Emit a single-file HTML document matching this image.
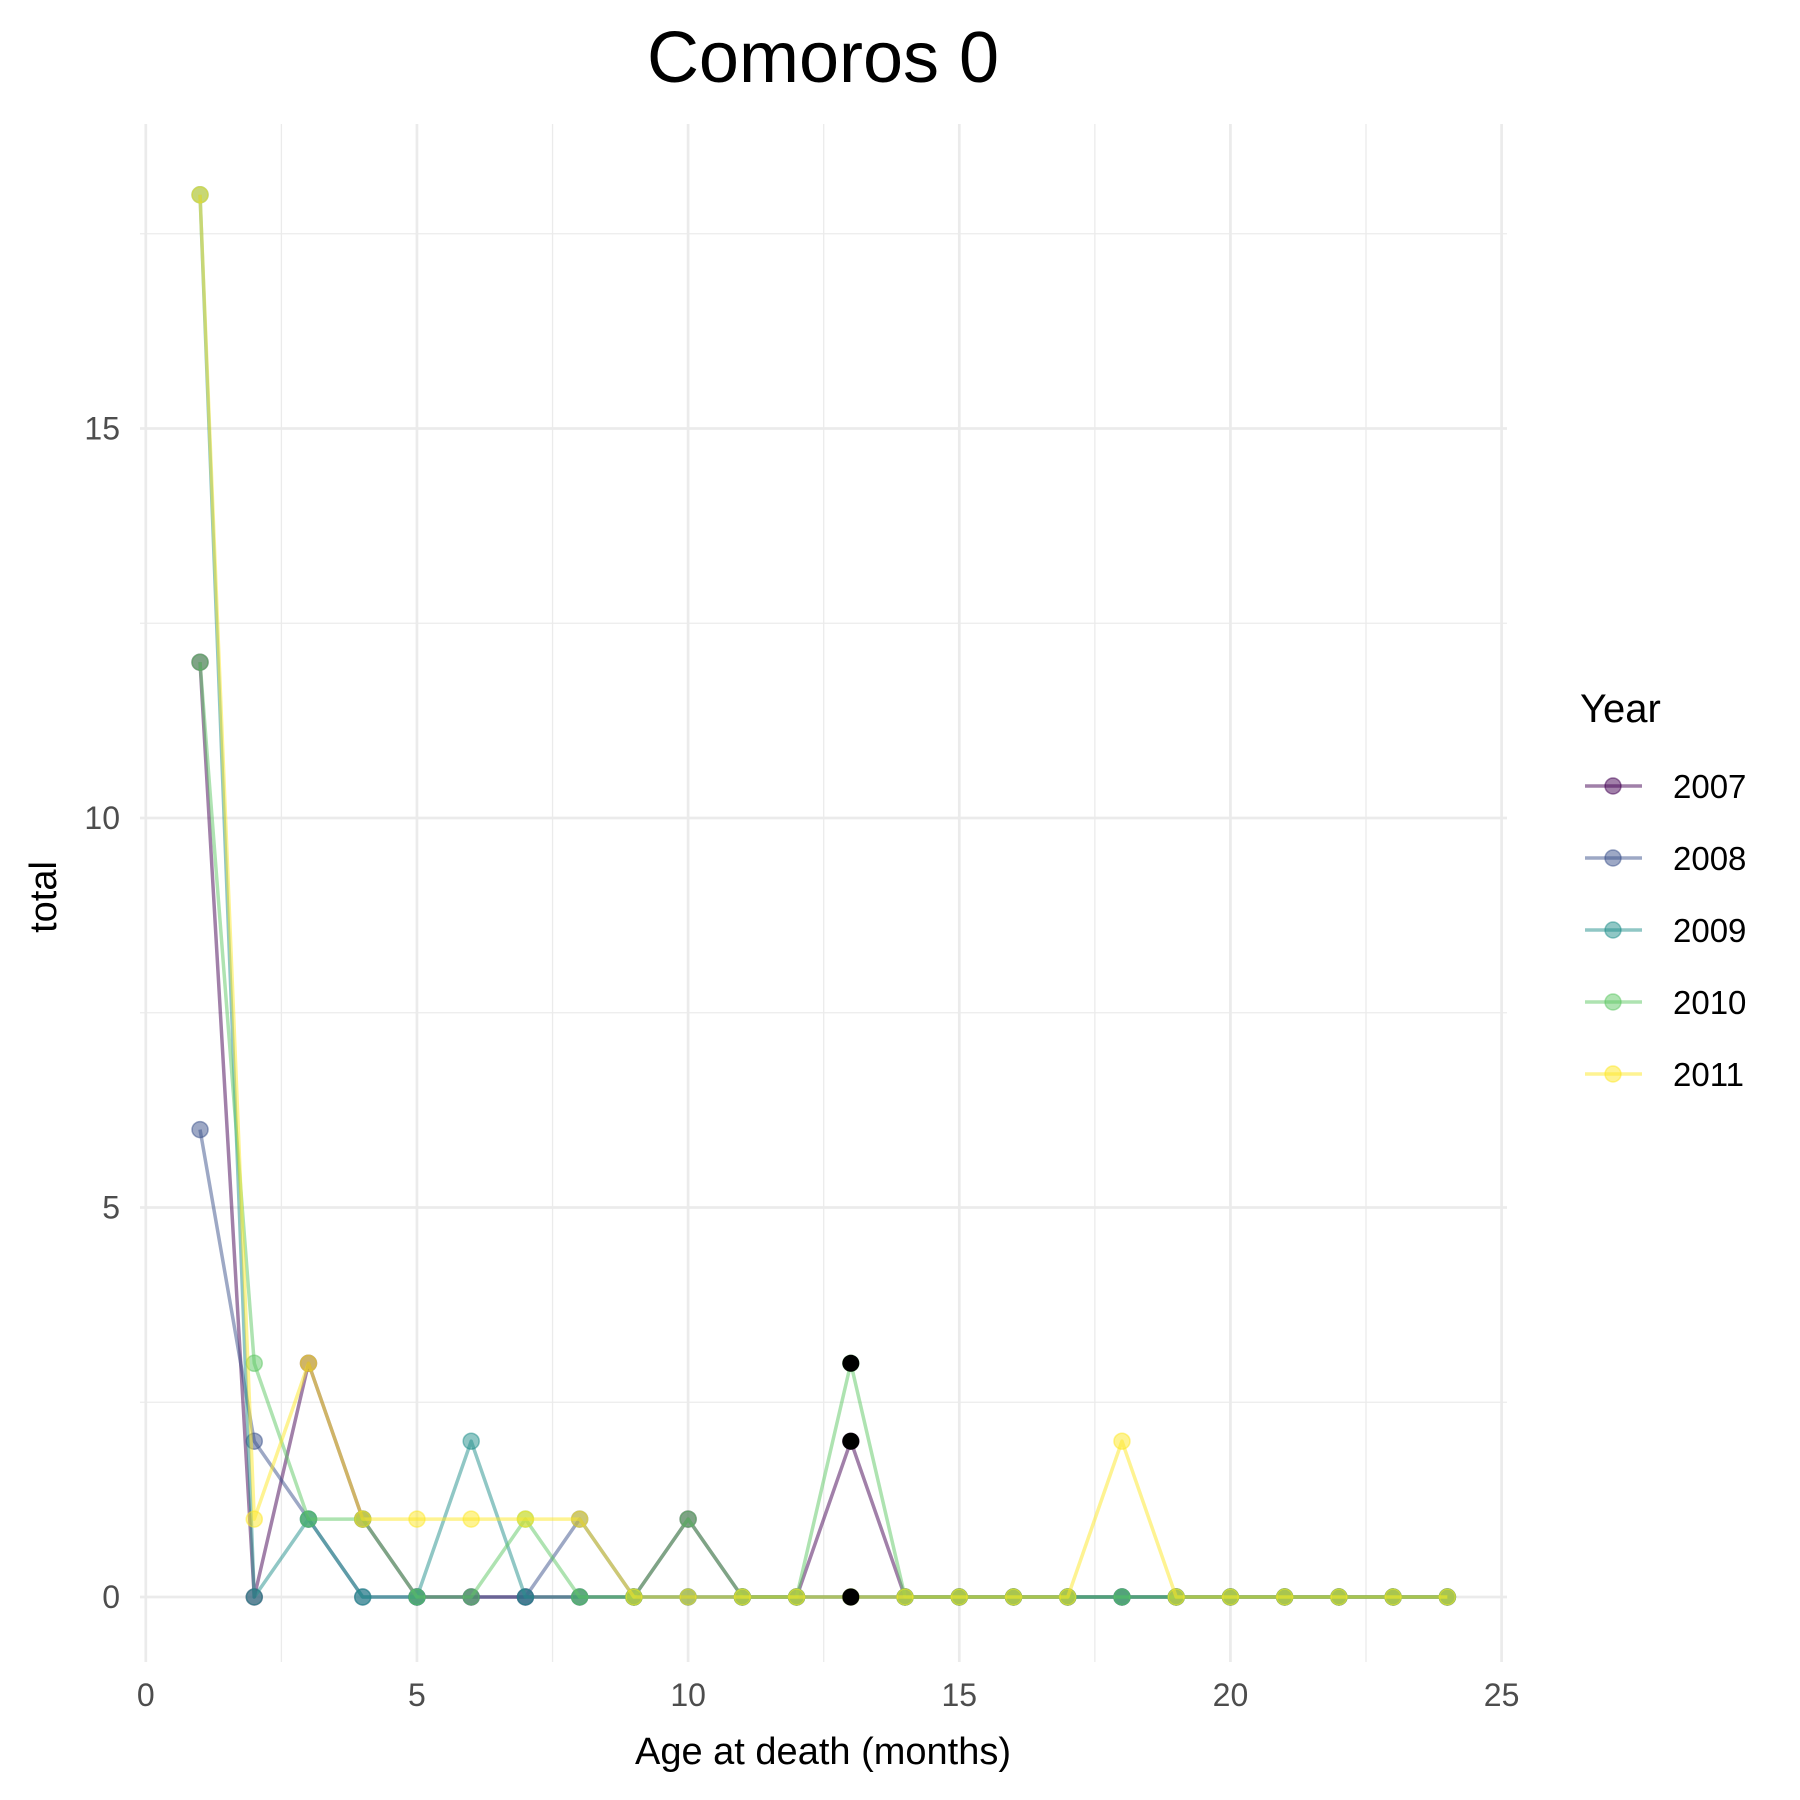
<!DOCTYPE html>
<html><head><meta charset="utf-8"><style>
html,body{margin:0;padding:0;background:#fff;}
svg{display:block;font-family:"Liberation Sans",Arial,sans-serif;}
</style></head><body>
<svg id="chart" width="1800" height="1800" viewBox="0 0 1800 1800" xmlns="http://www.w3.org/2000/svg">
<text x="823" y="82" font-size="72" text-anchor="middle" fill="#000">Comoros 0</text>
<g id="grid"></g>
<g id="series"></g>
<g id="axes"></g>
<text x="823" y="1764" font-size="38" text-anchor="middle" fill="#000">Age at death (months)</text>
<text transform="translate(56,897) rotate(-90)" font-size="38" text-anchor="middle" fill="#000">total</text>
<g id="legend">
<text x="1580" y="722" font-size="40" fill="#000">Year</text>
</g>
</svg>
<script>
const years = ["2007","2008","2009","2010","2011"];
const colors = ["#440154","#3B528B","#21908C","#5DC863","#FDE725"];
const ages = [1,2,3,4,5,6,7,8,9,10,11,12,13,14,15,16,17,18,19,20,21,22,23,24];
const s2007 = [12,0,3,1,0,0,0,0,0,1,0,0,2,0,0,0,0,0,0,0,0,0,0,0];
const s2008 = [6,2,1,0,0,0,0,1,0,0,0,0,0,0,0,0,0,0,0,0,0,0,0,0];
const s2009 = [18,0,1,0,0,2,0,0,0,0,0,0,0,0,0,0,0,0,0,0,0,0,0,0];
const s2010 = [12,3,1,1,0,0,1,0,0,1,0,0,3,0,0,0,0,0,0,0,0,0,0,0];
const s2011 = [18,1,3,1,1,1,1,1,0,0,0,0,0,0,0,0,0,2,0,0,0,0,0,0];
const blackX = [13,13,13];
const blackY = [0,2,3];
const xTicks = [0,5,10,15,20,25];
const yTicks = [0,5,10,15];
const allSeries = [s2007,s2008,s2009,s2010,s2011];

const NS="http://www.w3.org/2000/svg";
const X0=145.8, X1=1501.6, Y0=1597, YU=77.9;
const L=140,R=1507,T=124,B=1662;
function sx(v){return X0+(X1-X0)*v/25;}
function sy(v){return Y0-v*YU;}
function mk(tag,attrs,parent){const e=document.createElementNS(NS,tag);for(const k in attrs)e.setAttribute(k,attrs[k]);parent.appendChild(e);return e;}
const grid=document.getElementById('grid'), axes=document.getElementById('axes'), ser=document.getElementById('series'), leg=document.getElementById('legend');
for(let v=2.5;v<25;v+=5){const l=mk('line',{x1:sx(v),x2:sx(v),y1:T,y2:B,stroke:'#ebebeb','stroke-width':1.3},grid);

}
for(let v=2.5;v<19;v+=5){const l=mk('line',{x1:L,x2:R,y1:sy(v),y2:sy(v),stroke:'#ebebeb','stroke-width':1.3},grid);

}
xTicks.forEach(t=>{const l=mk('line',{x1:sx(t),x2:sx(t),y1:T,y2:B,stroke:'#ebebeb','stroke-width':2.7},grid);


const tx=mk('text',{x:sx(t),y:1706,'font-size':32,'text-anchor':'middle',fill:'#4d4d4d'},axes);tx.textContent=t;

});
yTicks.forEach(t=>{const l=mk('line',{x1:L,x2:R,y1:sy(t),y2:sy(t),stroke:'#ebebeb','stroke-width':2.7},grid);


const tx=mk('text',{x:120,y:sy(t)+11,'font-size':32,'text-anchor':'end',fill:'#4d4d4d'},axes);tx.textContent=t;

});
allSeries.forEach((vals,i)=>{
 const g=mk('g',{},ser);
 
 
 const pts=vals.map((v,j)=>sx(ages[j])+','+sy(v)).join(' ');
 const pl=mk('polyline',{points:pts,fill:'none',stroke:colors[i],'stroke-opacity':0.5,'stroke-width':3.5,'stroke-linejoin':'round'},g);
 
 
 vals.forEach((v,j)=>{const c=mk('circle',{cx:sx(ages[j]),cy:sy(v),r:8,fill:colors[i],'fill-opacity':0.5,stroke:colors[i],'stroke-opacity':0.5,'stroke-width':1.5},g);
 
 });
});
blackX.forEach((x,k)=>{const c=mk('circle',{cx:sx(x),cy:sy(blackY[k]),r:8.5,fill:'#000'},ser);

});
years.forEach((y,i)=>{const cy=786+i*72;
 const g=mk('g',{},leg);
 
 
 mk('line',{x1:1585,x2:1642,y1:cy,y2:cy,stroke:colors[i],'stroke-opacity':0.5,'stroke-width':3.5},g);
 mk('circle',{cx:1613,cy:cy,r:8,fill:colors[i],'fill-opacity':0.5,stroke:colors[i],'stroke-opacity':0.5,'stroke-width':1.5},g);
 const t=mk('text',{x:1673,y:cy+12,'font-size':33,fill:'#000'},g);t.textContent=y;});
</script>
</body></html>
